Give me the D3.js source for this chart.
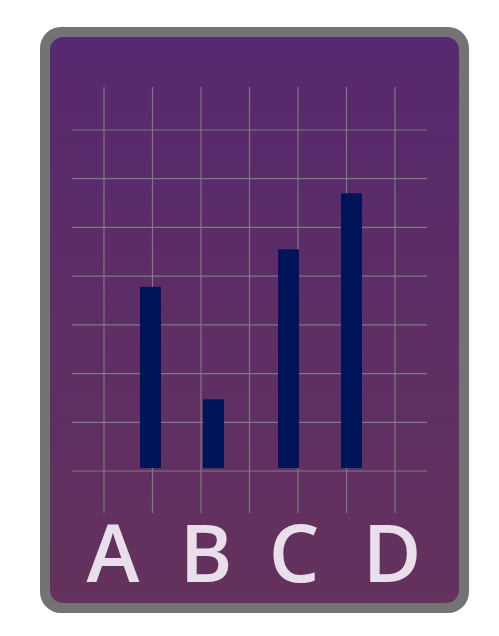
<!DOCTYPE html>
<html>
<head>
<meta charset="utf-8">
<script src="https://cdn.jsdelivr.net/npm/d3@7"></script>
<style>
  html, body { margin: 0; padding: 0; background: #fff; }
</style>
</head>
<body>
<div id="chart"></div>
<script>
// data
var categories = ["A", "B", "C", "D"];
var values = [3.78, 1.47, 4.55, 5.70];
var yGridTicks = [0, 1, 2, 3, 4, 5, 6, 7];
var xGridTicks = [0, 1, 2, 3, 4, 5, 6];

var W = 499, H = 636;

var svg = d3.select("#chart").append("svg")
    .attr("width", W)
    .attr("height", H);

var defs = svg.append("defs");
var grad = defs.append("linearGradient")
    .attr("id", "bg")
    .attr("x1", 0).attr("y1", 0).attr("x2", 0).attr("y2", 1);
grad.append("stop").attr("offset", "0%").attr("stop-color", "#57296f");
grad.append("stop").attr("offset", "100%").attr("stop-color", "#64325c");

// card frame
svg.append("rect")
    .attr("x", 40).attr("y", 27)
    .attr("width", 429).attr("height", 586)
    .attr("rx", 21)
    .attr("fill", "#737375");

svg.append("rect")
    .attr("x", 50).attr("y", 37)
    .attr("width", 409).attr("height", 566)
    .attr("rx", 13)
    .attr("fill", "url(#bg)");

// scales
var y = d3.scaleLinear().domain([0, 7]).range([471, 130]);
var gx = d3.scaleLinear().domain([0, 6]).range([104, 395]);
// the icon spaces its bars and letters slightly unevenly
var xBar = d3.scaleOrdinal().domain(categories).range([140, 203, 278, 341]);
var barWidth = 21;
var xLabel = d3.scaleOrdinal().domain(categories).range([113, 206, 294, 392]);

var grid = svg.append("g").attr("class", "grid")
    .attr("stroke", "#7d7a80")
    .attr("stroke-width", 1.2);

grid.selectAll("line.h")
    .data(yGridTicks)
  .enter().append("line")
    .attr("class", "h")
    .attr("x1", 72).attr("x2", 427)
    .attr("y1", function(d) { return y(d); })
    .attr("y2", function(d) { return y(d); });

grid.selectAll("line.v")
    .data(xGridTicks)
  .enter().append("line")
    .attr("class", "v")
    .attr("x1", function(d) { return gx(d); })
    .attr("x2", function(d) { return gx(d); })
    .attr("y1", 87).attr("y2", 513);

// bars
var barGap = 3;
svg.append("g").selectAll("rect")
    .data(values)
  .enter().append("rect")
    .attr("x", function(d, i) { return xBar(categories[i]); })
    .attr("width", barWidth)
    .attr("y", function(d) { return y(d); })
    .attr("height", function(d) { return y(0) - barGap - y(d); })
    .attr("fill", "#00145a");

// labels
svg.append("g").selectAll("text")
    .data(categories)
  .enter().append("text")
    .attr("x", function(d) { return xLabel(d); })
    .attr("y", 582)
    .attr("text-anchor", "middle")
    .attr("font-family", "'Open Sans', sans-serif")
    .attr("font-weight", 600)
    .attr("font-size", 80)
    .attr("fill", "#e8dfeb")
    .text(function(d) { return d; });
</script>
</body>
</html>
